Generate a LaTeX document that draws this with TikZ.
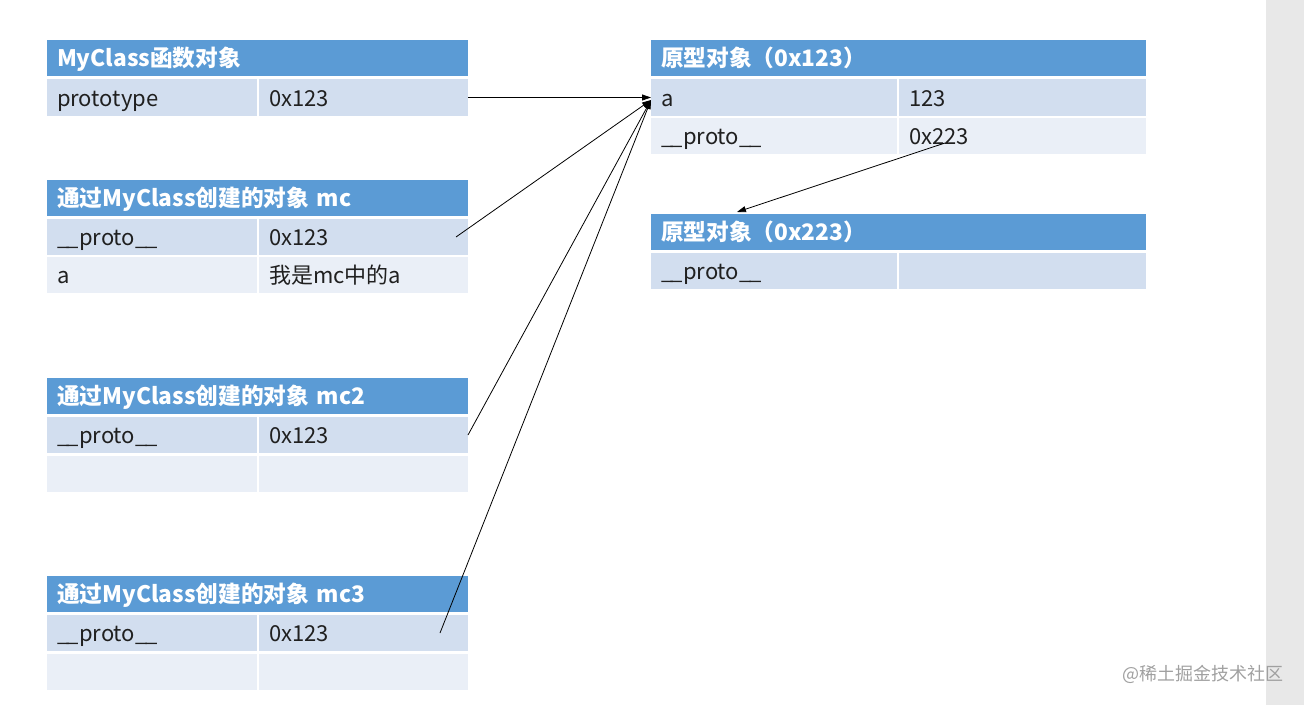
\documentclass[tikz,border=0pt]{standalone}
\usepackage{fontspec}
\setmainfont{Noto Sans CJK SC}
\usetikzlibrary{arrows.meta}
\definecolor{hdr}{HTML}{5B9BD5}
\definecolor{dk}{HTML}{D2DEEF}
\definecolor{lt}{HTML}{EAEFF7}
\definecolor{txt}{HTML}{202020}
\definecolor{bar}{HTML}{E8E8E8}
\definecolor{wmc}{HTML}{A0A0A0}
\newcommand\protolbl{\_\kern-2.5pt\_proto\_\kern-2.5pt\_}
\begin{document}
\begin{tikzpicture}[x=1pt,y=-1pt,
  base/.style={anchor=north west, inner xsep=10pt, inner ysep=0pt, align=left, outer sep=0pt, text height=22pt, text depth=5pt},
  head/.style={base, fill=hdr, text=white, font=\fontsize{22.7}{26}\selectfont\bfseries},
  cellD/.style={base, fill=dk, text=txt, font=\fontsize{22}{26}\selectfont},
  cellL/.style={base, fill=lt, text=txt, font=\fontsize{22}{26}\selectfont},
  Lh/.style={minimum width=421pt, text width=401pt},
  La/.style={minimum width=210pt, text width=190pt},
  Lb/.style={minimum width=209pt, text width=189pt},
  Rh/.style={minimum width=495pt, text width=475pt},
  Ra/.style={minimum width=246pt, text width=226pt},
  Rb/.style={minimum width=247pt, text width=227pt},
  link/.style={draw=black, line width=0.8pt, -{Triangle[length=9pt,width=6pt]}}
]
\useasboundingbox (0,0) rectangle (1304,705);
\fill[bar] (1266,0) rectangle (1304,705);

% MyClass function object
\node[head, Lh, minimum height=36pt] (t1h) at (47,40) {MyClass函数对象};
\node[cellD, La, minimum height=37pt] (t1a) at (47,79) {prototype};
\node[cellD, Lb, minimum height=37pt] (t1b) at (259,79) {0x123};

% mc
\node[head, Lh, minimum height=36pt] (mch) at (47,180) {通过MyClass创建的对象 mc};
\node[cellD, La, minimum height=36pt] (mca) at (47,219) {\protolbl};
\node[cellD, Lb, minimum height=36pt] (mcb) at (259,219) {0x123};
\node[cellL, La, minimum height=36pt] (mcc) at (47,257) {a};
\node[cellL, Lb, minimum height=36pt] (mcd) at (259,257) {我是mc中的a};

% mc2
\node[head, Lh, minimum height=36pt] (m2h) at (47,378) {通过MyClass创建的对象 mc2};
\node[cellD, La, minimum height=36pt] (m2a) at (47,417) {\protolbl};
\node[cellD, Lb, minimum height=36pt] (m2b) at (259,417) {0x123};
\node[cellL, La, minimum height=36pt] (m2c) at (47,456) {};
\node[cellL, Lb, minimum height=36pt] (m2d) at (259,456) {};

% mc3
\node[head, Lh, minimum height=36pt] (m3h) at (47,576) {通过MyClass创建的对象 mc3};
\node[cellD, La, minimum height=36pt] (m3a) at (47,615) {\protolbl};
\node[cellD, Lb, minimum height=36pt] (m3b) at (259,615) {0x123};
\node[cellL, La, minimum height=36pt] (m3c) at (47,654) {};
\node[cellL, Lb, minimum height=36pt] (m3d) at (259,654) {};

% prototype 0x123
\node[head, Rh, minimum height=36pt] (r1h) at (651,40) {原型对象（0x123）};
\node[cellD, Ra, minimum height=37pt] (r1a) at (651,79) {a};
\node[cellD, Rb, minimum height=37pt] (r1b) at (899,79) {123};
\node[cellL, Ra, minimum height=36pt] (r1c) at (651,118) {\protolbl};
\node[cellL, Rb, minimum height=36pt] (r1d) at (899,118) {0x223};

% prototype 0x223
\node[head, Rh, minimum height=36pt] (r2h) at (651,214) {原型对象（0x223）};
\node[cellD, Ra, minimum height=36pt] (r2a) at (651,253) {\protolbl};
\node[cellD, Rb, minimum height=36pt] (r2b) at (899,253) {};

% watermark
\node[anchor=west, inner sep=0pt, text=wmc, font=\fontsize{18}{20}\selectfont] (wm) at (1122,674) {@稀土掘金技术社区};

% connectors
\coordinate (tgt) at ([yshift=-2.5pt]r1a.west);
\draw[link] (t1b.east) -- (r1a.west);
\draw[link] ([xshift=-12pt]mcb.east) -- (tgt);
\draw[link] (m2b.east) -- (tgt);
\draw[link] ([xshift=-28pt]m3b.east) -- (tgt);
\draw[link] ([xshift=46pt,yshift=-7pt]r1d.west) -- ([xshift=86pt,yshift=2pt]r2h.north west);
\end{tikzpicture}
\end{document}
